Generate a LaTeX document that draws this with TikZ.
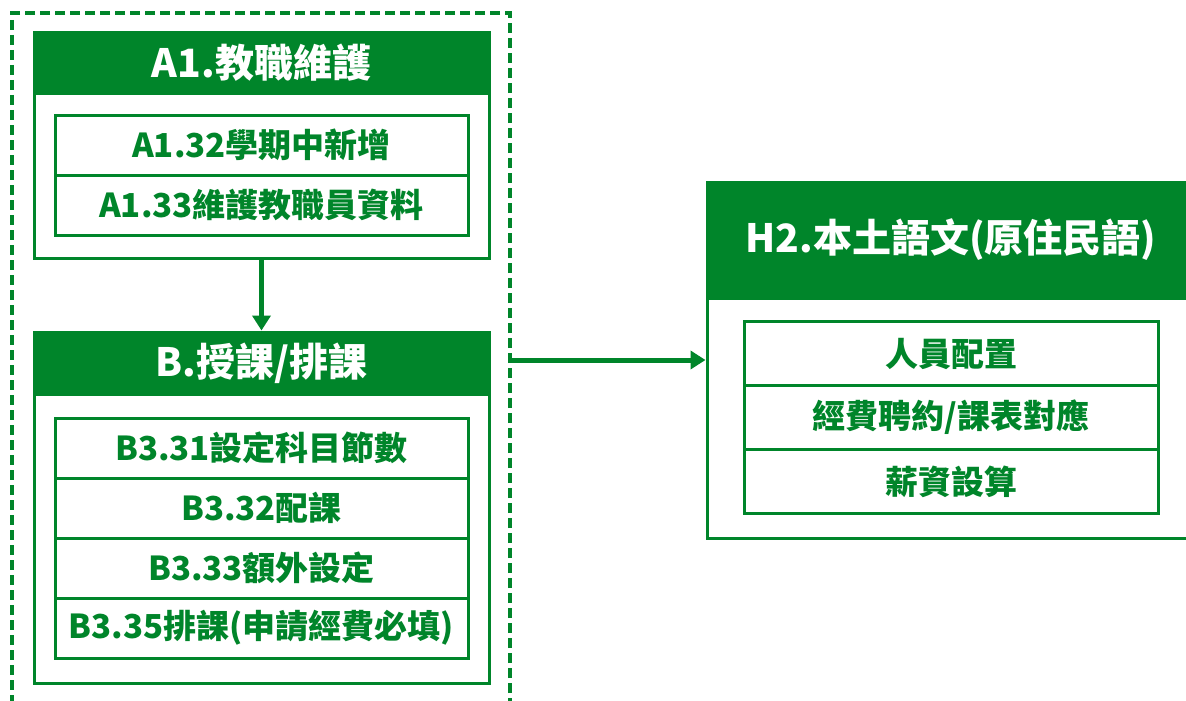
\documentclass[tikz,border=0pt]{standalone}
\usepackage{fontspec}
\setmainfont{Noto Sans CJK TC}
\usetikzlibrary{arrows.meta}
\definecolor{tgreen}{RGB}{0,133,42}
\tikzset{
  outerbox/.style={draw=tgreen, line width=3pt, fill=white, rectangle, inner sep=0pt},
  headbox/.style={fill=tgreen, draw=tgreen, line width=3pt, rectangle, inner sep=0pt, text=white, font=\fontsize{39}{44}\selectfont\bfseries},
  rowbox/.style={draw=tgreen, line width=3pt, rectangle, inner sep=0pt, text=tgreen, font=\fontsize{33}{38}\selectfont\bfseries},
  grpbox/.style={draw=tgreen, line width=3.5pt, dash pattern=on 10pt off 5pt, rectangle, inner sep=0pt},
  conn/.style={draw=tgreen, line width=5pt, -{Triangle[length=15pt,width=18pt]}, shorten >=0pt}
}
\begin{document}
\begin{tikzpicture}[x=1pt,y=-1pt]
\useasboundingbox (0,0) rectangle (1186,701);
\clip (0,0) rectangle (1186,701);
\fill[white] (0,0) rectangle (1186,701);
% dashed group
\node[grpbox, minimum width=498pt, minimum height=707pt] (grp) at (261,366.5) {};
% A1
\node[outerbox, minimum width=455pt, minimum height=225pt] (A1) at (261.5,145.5) {};
\node[headbox, minimum width=455pt, minimum height=60pt] (A1h) at (261.5,63) {A1.教職維護};
\node[rowbox, minimum width=413pt, minimum height=60pt] (A1r1) at (261.5,145) {A1.32學期中新增};
\node[rowbox, minimum width=413pt, minimum height=60pt] (A1r2) at (261.5,205) {A1.33維護教職員資料};
% B
\node[outerbox, minimum width=455pt, minimum height=351pt] (B) at (261.5,507.5) {};
\node[headbox, minimum width=455pt, minimum height=62pt] (Bh) at (261.5,363) {B.授課/排課};
\node[rowbox, minimum width=413pt, minimum height=60pt] (Br1) at (261.5,448) {B3.31設定科目節數};
\node[rowbox, minimum width=413pt, minimum height=60pt] (Br2) at (261.5,508) {B3.32配課};
\node[rowbox, minimum width=413pt, minimum height=60pt] (Br3) at (261.5,568) {B3.33額外設定};
\node[rowbox, minimum width=413pt, minimum height=60pt] (Br4) at (261.5,628) {B3.35排課(申請經費必填)};
% H2
\node[outerbox, minimum width=488pt, minimum height=356pt] (H2) at (951,360) {};
\node[headbox, minimum width=488pt, minimum height=116pt] (H2h) at (951,240) {H2.本土語文(原住民語)};
\node[rowbox, minimum width=414pt, minimum height=64pt] (H2r1) at (951,353.5) {人員配置};
\node[rowbox, minimum width=414pt, minimum height=64pt] (H2r2) at (951,417.5) {經費聘約/課表對應};
\node[rowbox, minimum width=414pt, minimum height=64pt] (H2r3) at (951,481.5) {薪資設算};
% connectors
\draw[conn] (A1.south) -- (B.north);
\draw[conn] (grp.east |- H2.west) -- (H2.west);
\end{tikzpicture}
\end{document}
